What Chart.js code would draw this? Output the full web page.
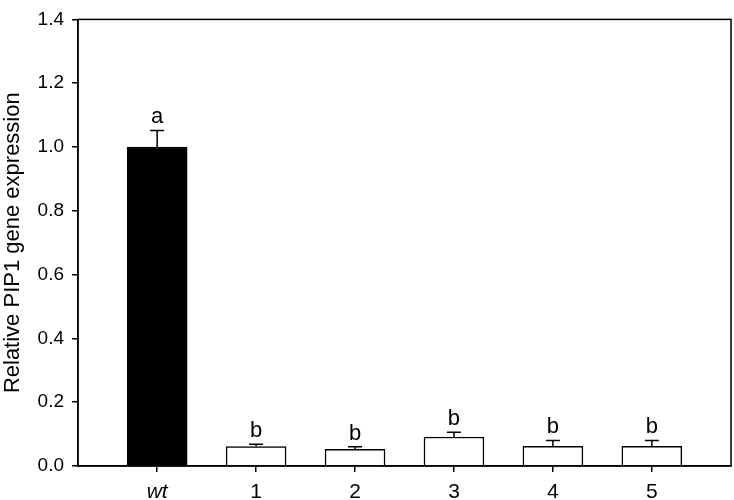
<!DOCTYPE html>
<html>
<head>
<meta charset="utf-8">
<script src="https://cdn.jsdelivr.net/npm/chart.js@4"></script>
<style>
  html, body { margin: 0; padding: 0; background: #fff; }
  #wrap { width: 734px; height: 500px; position: relative; }
</style>
</head>
<body>
<div id="wrap"><canvas id="chart"></canvas></div>
<script>
const categories = ['wt', '1', '2', '3', '4', '5'];
const expression = [1.0, 0.061, 0.052, 0.091, 0.062, 0.062];
const errors = [0.052, 0.007, 0.008, 0.015, 0.018, 0.018];
const letters = ['a', 'b', 'b', 'b', 'b', 'b'];
const barColors = ['#000000', '#ffffff', '#ffffff', '#ffffff', '#ffffff', '#ffffff'];
const yTicks = [0, 0.2, 0.4, 0.6, 0.8, 1.0, 1.2, 1.4];

const FONT = "'Liberation Sans', Arial, sans-serif";

// error bars (upper only), significance letters and the plot frame
const extras = {
  id: 'extras',
  afterDatasetsDraw(chart) {
    const { ctx, chartArea, scales } = chart;
    const x = scales.x, y = scales.y;
    ctx.save();
    ctx.strokeStyle = '#000';
    ctx.lineWidth = 1.5;
    expression.forEach((v, i) => {
      const px = x.getPixelForValue(i);
      const top = y.getPixelForValue(v + errors[i]);
      const base = y.getPixelForValue(v);
      ctx.beginPath();
      ctx.moveTo(px, base);
      ctx.lineTo(px, top);
      ctx.moveTo(px - 7, top);
      ctx.lineTo(px + 7, top);
      ctx.stroke();
      ctx.fillStyle = '#000';
      ctx.font = '22px ' + FONT;
      ctx.textAlign = 'center';
      ctx.textBaseline = 'alphabetic';
      ctx.fillText(letters[i], px, top - 7);
    });
    ctx.strokeRect(chartArea.left, chartArea.top, chartArea.right - chartArea.left, chartArea.bottom - chartArea.top);
    ctx.restore();
  }
};

new Chart(document.getElementById('chart'), {
  type: 'bar',
  data: {
    datasets: [{
      data: expression.map((v, i) => ({ x: i, y: v })),
      backgroundColor: barColors,
      borderColor: '#000',
      borderWidth: 1.5,
      barThickness: 60
    }]
  },
  options: {
    responsive: true,
    maintainAspectRatio: false,
    animation: false,
    layout: { padding: { top: 9, right: 3, left: 0, bottom: 0 } },
    plugins: { legend: { display: false }, tooltip: { enabled: false } },
    scales: {
      x: {
        type: 'linear',
        offset: false,
        min: -0.8,
        max: 5.8,
        afterBuildTicks: (s) => { s.ticks = categories.map((c, i) => ({ value: i })); },
        afterFit: (s) => { s.height = 34; },
        grid: { offset: false, drawOnChartArea: false, drawTicks: true, tickLength: 6, color: '#000', lineWidth: 1.5 },
        border: { display: true, color: '#000', width: 1.5 },
        ticks: {
          padding: 8,
          color: '#000',
          font: (c) => ({ family: FONT, size: 21, style: c.tick && c.tick.value === 0 ? 'italic' : 'normal' }),
          callback: (v) => categories[v]
        }
      },
      y: {
        min: 0,
        max: 1.4,
        afterBuildTicks: (s) => { s.ticks = yTicks.map(v => ({ value: v })); },
        afterFit: (s) => { s.width = 78; },
        grid: { drawOnChartArea: false, drawTicks: true, tickLength: 6, color: '#000', lineWidth: 1.5 },
        border: { display: true, color: '#000', width: 1.5 },
        title: {
          display: true,
          text: 'Relative PIP1 gene expression',
          color: '#000',
          font: { family: FONT, size: 22 },
          padding: { top: 0, bottom: 0 }
        },
        ticks: {
          padding: 8,
          color: '#000',
          font: { family: FONT, size: 19 },
          callback: (v) => v.toFixed(1)
        }
      }
    }
  },
  plugins: [extras]
});
</script>
</body>
</html>
